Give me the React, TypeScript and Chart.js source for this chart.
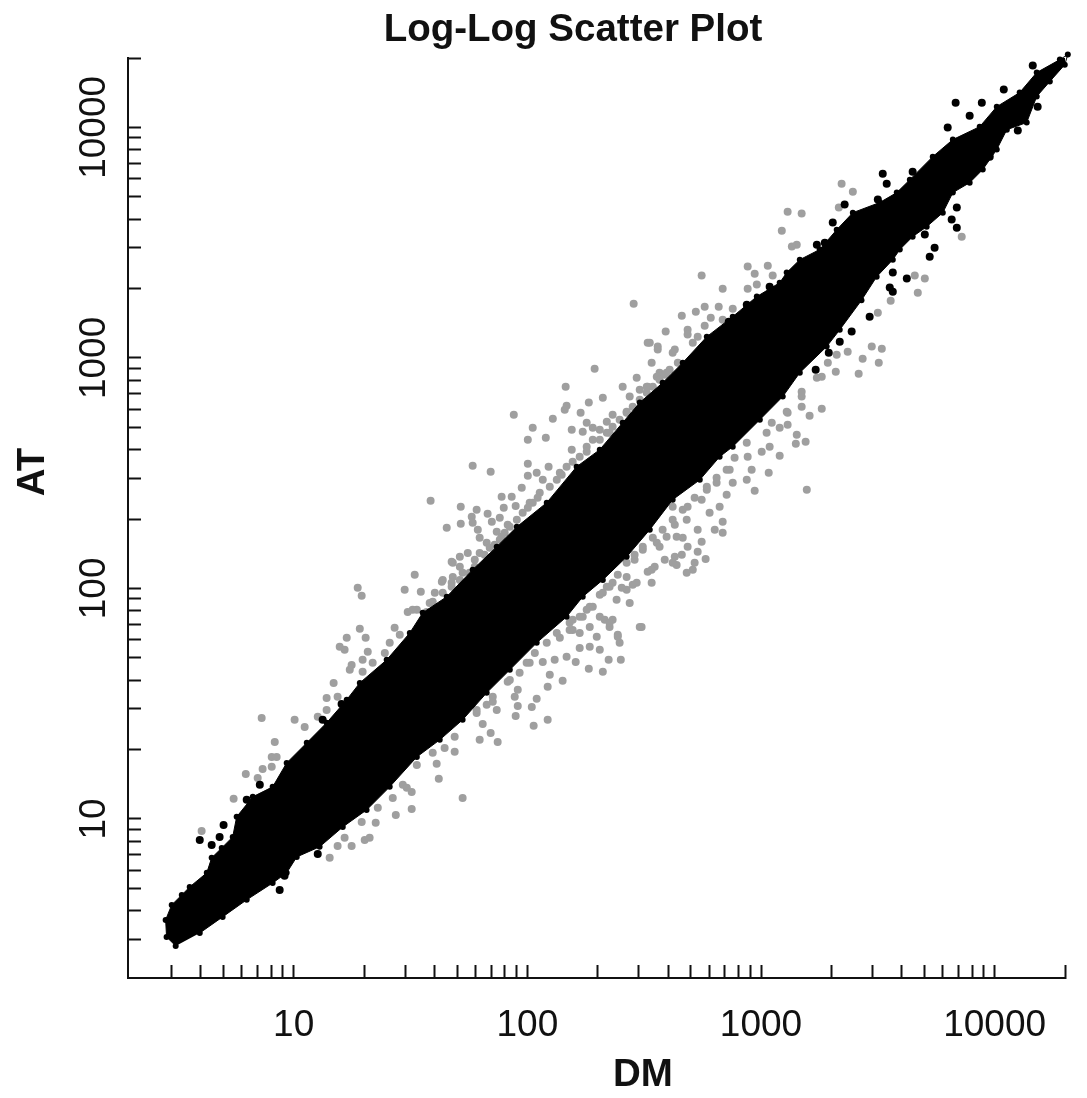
import React, { useEffect, useRef } from "react";
import { Chart, registerables } from "chart.js";

Chart.register(...registerables);

const chartTitle = "Log-Log Scatter Plot";
const xAxisTitle = "DM";
const yAxisTitle = "AT";

const xTickValues = [3, 4, 5, 6, 7, 8, 9, 10, 20, 30, 40, 50, 60, 70, 80, 90, 100, 200, 300, 400, 500, 600, 700, 800, 900, 1000, 2000, 3000, 4000, 5000, 6000, 7000, 8000, 9000, 10000, 20000];
const yTickValues = xTickValues;
const labelledTicks = [10, 100, 1000, 10000];

// All readings below are [log10 DM, log10 AT].
// Outline of the solid black mass, from the low end up its upper side.
const coreUpperEdge = [
  [0.495, 0.449], [0.456, 0.488], [0.452, 0.562], [0.478, 0.627], [0.521, 0.67], [0.555, 0.705], [0.628, 0.766], [0.649, 0.831],
  [0.692, 0.874], [0.739, 0.922], [0.756, 1.009], [0.825, 1.096], [0.91, 1.139], [0.97, 1.243], [1.056, 1.33], [1.141, 1.417],
  [1.227, 1.517], [1.283, 1.59], [1.398, 1.69], [1.497, 1.807], [1.552, 1.894], [1.655, 1.964], [1.766, 2.081], [1.869, 2.181],
  [1.955, 2.267], [2.083, 2.372], [2.211, 2.528], [2.31, 2.602], [2.408, 2.719], [2.481, 2.806], [2.579, 2.892], [2.665, 2.979],
  [2.768, 3.092], [2.879, 3.179], [2.982, 3.266], [3.08, 3.326], [3.11, 3.37], [3.166, 3.426], [3.251, 3.47], [3.324, 3.556],
  [3.393, 3.63], [3.508, 3.674], [3.581, 3.717], [3.637, 3.773], [3.735, 3.873], [3.821, 3.947], [3.936, 4.003], [4.009, 4.09],
  [4.107, 4.151], [4.18, 4.238], [4.279, 4.294], [4.313, 4.316],
];
// The same outline, coming back down its lower side.
const coreLowerEdge = [
  [4.3, 4.272], [4.236, 4.199], [4.18, 4.134], [4.137, 4.021], [4.052, 3.99], [4.009, 3.904], [3.949, 3.817], [3.893, 3.76],
  [3.821, 3.717], [3.778, 3.63], [3.709, 3.569], [3.649, 3.526], [3.594, 3.47], [3.564, 3.426], [3.495, 3.352], [3.43, 3.25],
  [3.337, 3.122], [3.281, 3.049], [3.166, 2.936], [3.093, 2.832], [2.995, 2.732], [2.879, 2.615], [2.823, 2.571], [2.738, 2.471],
  [2.622, 2.385], [2.524, 2.255], [2.425, 2.137], [2.323, 2.037], [2.237, 1.964], [2.168, 1.877], [2.04, 1.764], [1.925, 1.647],
  [1.826, 1.547], [1.723, 1.43], [1.625, 1.343], [1.527, 1.269], [1.411, 1.139], [1.312, 1.039], [1.21, 0.965], [1.111, 0.879],
  [1.013, 0.835], [0.97, 0.766], [0.91, 0.722], [0.799, 0.649], [0.696, 0.575], [0.598, 0.505],
];

const blackPoints = [
  [4.163, 4.268], [4.039, 4.164], [3.833, 4.107], [3.945, 4.107], [3.893, 4.051], [3.799, 3.999], [4.099, 3.986], [4.184, 4.09],
  [3.521, 3.799], [3.649, 3.808], [3.538, 3.756], [3.307, 3.587], [3.358, 3.665], [3.5, 3.687], [3.273, 3.5], [3.239, 3.491],
  [3.743, 3.478], [3.722, 3.439], [3.624, 3.344], [3.701, 3.535], [3.838, 3.565], [3.816, 3.6], [3.838, 3.652], [3.979, 3.873],
  [3.564, 3.37], [3.551, 3.305], [3.564, 3.287], [3.465, 3.179], [3.388, 3.114], [3.337, 3.07], [3.29, 3.022], [3.234, 2.949],
  [3.037, 3.309], [2.939, 3.231], [2.862, 3.157], [0.7, 0.974], [0.598, 0.909], [0.683, 0.922], [0.649, 0.887], [1.103, 0.848],
  [0.961, 0.753], [0.94, 0.692], [0.799, 1.083], [1.124, 1.43], [1.205, 1.499], [0.855, 1.148],
];

const greyUpperPoints = [
  [0.606, 0.948], [0.743, 1.087], [0.795, 1.195], [0.846, 1.178], [0.867, 1.217], [0.906, 1.226], [0.906, 1.269], [0.927, 1.269],
  [0.919, 1.334], [0.863, 1.438], [1.004, 1.43], [1.047, 1.399], [1.103, 1.443], [1.141, 1.473], [1.141, 1.525], [1.188, 1.53],
  [1.171, 1.59], [1.24, 1.647], [1.248, 1.668], [1.295, 1.69], [1.317, 1.725], [1.295, 1.638], [1.338, 1.677], [1.197, 1.747],
  [1.218, 1.734], [1.227, 1.786], [1.308, 1.786], [1.283, 1.825], [1.274, 2.003], [1.291, 1.968], [1.39, 1.72], [1.411, 1.764],
  [1.432, 1.829], [1.454, 1.799], [1.475, 1.994], [1.518, 2.059], [1.544, 1.985], [1.488, 1.898], [1.527, 1.907], [1.569, 1.898],
  [1.604, 1.981], [1.634, 2.029], [1.681, 2.05], [1.681, 2.111], [1.595, 1.942], [1.638, 2.037], [1.676, 2.116], [1.711, 2.137],
  [1.745, 2.154], [1.775, 2.124], [1.796, 2.154], [1.711, 2.094], [1.723, 2.068], [1.638, 1.981], [1.676, 2.024], [1.586, 2.38],
  [1.715, 2.354], [1.655, 2.263], [1.715, 2.28], [1.783, 2.341], [1.83, 2.324], [1.762, 2.311], [1.766, 2.285], [1.848, 2.289],
  [1.882, 2.306], [1.916, 2.276], [1.869, 2.246], [1.788, 2.254], [1.796, 2.22], [1.826, 2.198], [1.89, 2.224], [1.955, 2.298],
  [1.766, 2.532], [1.843, 2.506], [2.002, 2.541], [2.091, 2.528], [2.168, 2.528], [2.139, 2.502], [2.002, 2.489], [2.04, 2.502],
  [2.066, 2.471], [1.976, 2.437], [1.89, 2.398], [1.933, 2.398], [1.899, 2.35], [1.95, 2.358], [2.053, 2.415], [2.01, 2.372],
  [1.98, 2.328], [1.942, 2.753], [2.023, 2.697], [2.002, 2.645], [2.079, 2.654], [2.109, 2.736], [2.164, 2.875], [2.168, 2.792],
  [2.16, 2.775], [2.263, 2.806], [2.228, 2.762], [2.323, 2.827], [2.408, 2.875], [2.468, 2.914], [2.288, 2.953], [2.524, 3.066],
  [2.558, 3.036], [2.631, 3.036], [2.532, 2.979], [2.566, 2.936], [2.511, 2.875], [2.481, 2.862], [2.438, 2.832], [2.425, 2.766],
  [2.365, 2.753], [2.34, 2.723], [2.254, 2.719], [2.19, 2.688], [2.237, 2.68], [2.28, 2.697], [2.31, 2.688], [2.352, 2.675],
  [2.254, 2.615], [2.19, 2.602], [2.28, 2.645], [2.455, 3.235], [2.515, 3.066], [2.558, 3.049], [2.622, 3.022], [2.592, 3.114],
  [2.661, 3.183], [2.721, 3.2], [2.759, 3.222], [2.819, 3.222], [2.879, 3.213], [2.785, 3.174], [2.836, 3.166], [2.686, 3.122],
  [2.759, 3.14], [2.686, 3.101], [2.729, 3.092], [2.708, 3.066], [2.746, 3.357], [2.836, 3.3], [2.644, 2.979], [2.596, 2.936],
  [2.554, 2.918], [2.515, 2.875], [3.345, 3.756], [3.393, 3.721], [3.333, 3.652], [3.114, 3.634], [3.174, 3.626], [3.089, 3.552],
  [3.153, 3.491], [3.132, 3.483], [2.943, 3.396], [2.973, 3.365], [3.029, 3.4], [3.05, 3.357], [2.982, 3.318], [2.943, 3.3],
];

// The dense grey ribbon hugging the upper side of the black mass.
const greyUpperRibbon = [
  [1.509, 1.907], [1.582, 1.937], [1.711, 2.037], [1.753, 2.068], [1.839, 2.176], [1.882, 2.211], [1.925, 2.267], [2.023, 2.372],
  [2.126, 2.471], [2.224, 2.571], [2.34, 2.675], [2.395, 2.732], [2.451, 2.788], [2.511, 2.849], [2.566, 2.905], [2.609, 2.949],
  [1.676, 2.007], [1.775, 2.094], [1.817, 2.146], [1.86, 2.189], [1.903, 2.241], [2.002, 2.35], [2.044, 2.393], [2.096, 2.441],
  [2.147, 2.493], [2.194, 2.55], [2.254, 2.593], [2.31, 2.645], [2.365, 2.701], [2.425, 2.762], [2.481, 2.818], [2.537, 2.875],
  [2.588, 2.927],
];

const greyLowerPoints = [
  [1.154, 0.831], [1.188, 0.883], [1.218, 0.918], [1.248, 0.883], [1.304, 0.909], [1.325, 0.918], [1.351, 0.983], [1.291, 0.987],
  [1.437, 1.017], [1.505, 1.043], [1.424, 1.091], [1.36, 1.048], [1.467, 1.148], [1.505, 1.117], [1.484, 1.135], [1.689, 1.356],
  [1.689, 1.291], [1.646, 1.308], [1.595, 1.287], [1.612, 1.239], [1.621, 1.174], [1.527, 1.234], [1.723, 1.091], [1.873, 1.334],
  [1.796, 1.343], [1.843, 1.373], [1.809, 1.412], [2.027, 1.404], [2.087, 1.43], [1.95, 1.447], [1.869, 1.473], [2.019, 1.486],
  [1.959, 1.49], [2.04, 1.521], [1.946, 1.53], [1.852, 1.508], [1.783, 1.46], [1.826, 1.495], [1.959, 1.56], [2.087, 1.573],
  [2.151, 1.599], [1.916, 1.595], [2.096, 1.625], [1.967, 1.634], [2.01, 1.677], [2.066, 1.681], [2.117, 1.69], [2.168, 1.703],
  [2.207, 1.681], [2.263, 1.651], [2.323, 1.638], [2.348, 1.69], [2.4, 1.69], [2.224, 1.742], [2.31, 1.734], [2.267, 1.747],
  [2.083, 1.764], [2.139, 1.786], [2.194, 1.82], [2.297, 1.79], [2.395, 1.764], [2.387, 1.799], [2.352, 1.833], [2.365, 1.864],
  [2.237, 1.877], [2.31, 1.877], [2.267, 1.92], [2.382, 1.951], [2.438, 1.937], [2.323, 1.981], [2.425, 1.994], [2.365, 2.024],
  [2.481, 1.833], [2.181, 1.851], [2.489, 1.833], [2.331, 1.864], [2.404, 2.003], [2.468, 2.024], [2.532, 2.024], [2.515, 2.072],
  [2.545, 2.094], [2.425, 2.05], [2.459, 2.124], [2.494, 2.168], [2.554, 2.198], [2.596, 2.224], [2.588, 2.124], [2.639, 2.102],
  [2.682, 2.068], [2.708, 2.081], [2.716, 2.111], [2.661, 2.146], [2.631, 2.137], [2.686, 2.181], [2.665, 2.22], [2.746, 2.202],
  [2.729, 2.159], [2.763, 2.128], [2.631, 2.276], [2.682, 2.298], [2.686, 2.354], [2.729, 2.254], [2.802, 2.254], [2.836, 2.241],
  [2.836, 2.289], [2.78, 2.328], [2.746, 2.385], [2.768, 2.428], [2.81, 2.458], [2.853, 2.406], [2.823, 2.354], [2.879, 2.458],
  [2.866, 2.515], [2.887, 2.567], [2.939, 2.632], [2.943, 2.571], [2.96, 2.515], [2.939, 2.471], [2.973, 2.424], [3.033, 2.502],
  [3.003, 2.593], [3.037, 2.615], [3.08, 2.575], [3.024, 2.675], [3.08, 2.697], [3.114, 2.71], [3.153, 2.667], [3.149, 2.628],
  [3.046, 2.719], [3.114, 2.762], [3.191, 2.636], [2.28, 1.92], [2.224, 1.877], [2.267, 1.833], [2.352, 1.851], [2.181, 1.82],
  [2.387, 1.79], [2.224, 1.807], [2.532, 2.081], [2.566, 2.181], [2.622, 2.111], [2.622, 2.354], [2.639, 2.224], [2.34, 2.007],
  [2.451, 2.016], [3.658, 3.357], [3.671, 3.283], [3.555, 3.248], [3.5, 3.196], [3.474, 3.049], [3.517, 3.04], [3.435, 2.996],
  [3.504, 2.979], [3.371, 3.027], [3.286, 2.979], [3.324, 3.014], [3.32, 2.94], [3.418, 2.931], [3.26, 2.918], [3.239, 2.914],
  [3.174, 2.853], [3.174, 2.832], [3.26, 2.779], [3.208, 2.749], [3.174, 2.788], [3.11, 2.766], [3.859, 3.526], [3.701, 3.344],
  [3.196, 2.428],
];

// The dense grey ribbon hugging the lower side of the black mass.
const greyLowerRibbon = [
  [1.783, 1.473], [1.852, 1.53], [1.925, 1.603], [1.997, 1.677], [2.032, 1.72], [2.126, 1.807], [2.194, 1.864], [2.254, 1.907],
  [2.352, 2.007], [2.425, 2.111], [2.494, 2.181], [2.579, 2.254], [2.665, 2.341], [2.768, 2.441], [2.853, 2.515], [2.31, 1.972],
  [2.387, 2.059], [2.459, 2.146], [2.537, 2.22], [2.622, 2.298], [2.716, 2.393], [2.81, 2.48],
];

const toValues = (readings: number[][]) => readings.map(([x, y]) => ({ x: 10 ** x, y: 10 ** y }));

const INK = "#111111";

const axisTitles = {
  id: "axisTitles",
  afterDraw(chart: any) {
    const { ctx } = chart;
    ctx.save();
    ctx.fillStyle = INK;
    ctx.font = 'bold 38.5px "Liberation Sans", Arial, sans-serif';
    ctx.textAlign = "center";
    ctx.textBaseline = "alphabetic";
    ctx.fillText(chartTitle, 573, 41);
    ctx.fillText(xAxisTitle, 643, 1086);
    ctx.translate(44, 472);
    ctx.rotate(-Math.PI / 2);
    ctx.fillText(yAxisTitle, 0, 0);
    ctx.restore();
  },
};

const tickLabel = (v: number | string) => (labelledTicks.includes(Number(v)) ? String(v) : "");

export default function App() {
  const ref = useRef<HTMLCanvasElement>(null);

  useEffect(() => {
    const font = { family: '"Liberation Sans", Arial, sans-serif', size: 37 };
    const chart = new Chart(ref.current!, {
      type: "scatter",
      data: {
        datasets: [
          {
            label: "Core",
            data: toValues([...coreUpperEdge, ...coreLowerEdge]),
            showLine: true,
            fill: "shape",
            backgroundColor: "#000000",
            borderColor: "#000000",
            borderWidth: 1,
            pointRadius: 3,
            pointBackgroundColor: "#000000",
            pointBorderWidth: 0,
            clip: false,
          },
          {
            label: "Black",
            data: toValues(blackPoints),
            backgroundColor: "#000000",
            borderWidth: 0,
            pointRadius: 4,
            clip: false,
          },
          {
            label: "Grey",
            data: toValues([...greyUpperPoints, ...greyUpperRibbon, ...greyLowerPoints, ...greyLowerRibbon]),
            backgroundColor: "#9f9f9f",
            borderWidth: 0,
            pointRadius: 4,
            clip: false,
          },
        ],
      } as any,
      options: {
        animation: false,
        responsive: false,
        layout: { padding: { top: 58, right: 22, left: 0, bottom: 0 } },
        plugins: { legend: { display: false }, tooltip: { enabled: false }, title: { display: false } },
        scales: {
          x: {
            type: "logarithmic",
            bounds: "data",
            min: 1.954,
            max: 20000,
            border: { display: true, color: INK, width: 2 },
            grid: { drawOnChartArea: false, drawTicks: true, tickLength: -13, tickColor: INK, tickWidth: 2 },
            ticks: { font, color: INK, autoSkip: false, maxRotation: 0, minRotation: 0, padding: 39, callback: tickLabel },
            afterBuildTicks: (s: any) => {
              s.ticks = xTickValues.map((value) => ({ value }));
            },
            afterFit: (s: any) => {
              s.height = 120;
              s.paddingLeft = 0;
              s.paddingRight = 0;
            },
          },
          y: {
            type: "logarithmic",
            bounds: "data",
            min: 2.041,
            max: 20000,
            border: { display: true, color: INK, width: 2 },
            grid: { drawOnChartArea: false, drawTicks: true, tickLength: -13, tickColor: INK, tickWidth: 2 },
            ticks: { font, color: INK, autoSkip: false, minRotation: 90, maxRotation: 90, crossAlign: "center", padding: -5.5, callback: tickLabel },
            afterBuildTicks: (s: any) => {
              s.ticks = yTickValues.map((value) => ({ value }));
            },
            afterFit: (s: any) => {
              s.width = 128;
              s.paddingTop = 0;
              s.paddingBottom = 0;
            },
          },
        },
      } as any,
      plugins: [axisTitles],
    });
    return () => chart.destroy();
  }, []);

  return <canvas ref={ref} width={1087} height={1098} style={{ position: "absolute", left: 0, top: 0, display: "block" }} />;
}
